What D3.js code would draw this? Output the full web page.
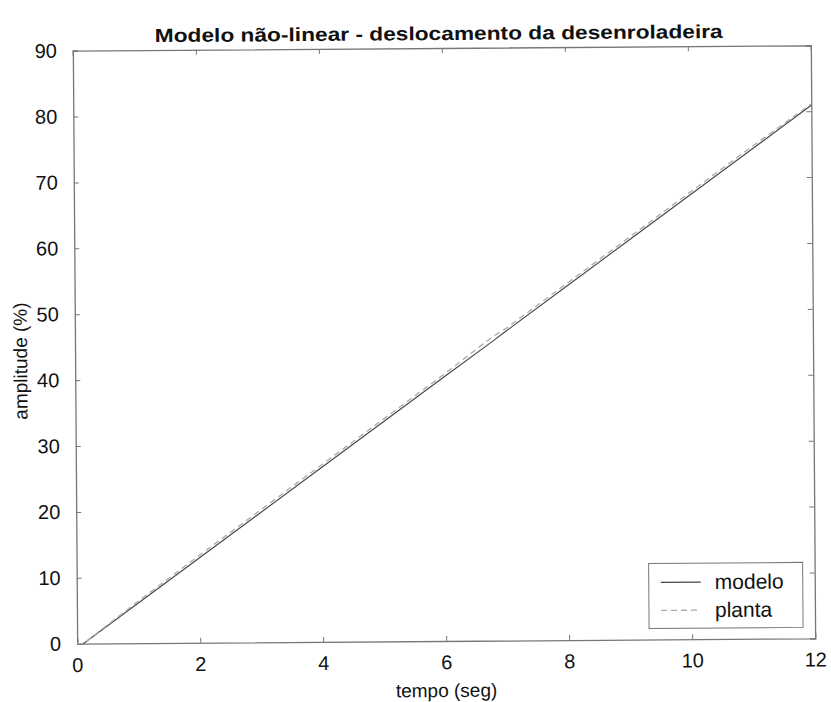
<!DOCTYPE html>
<html>
<head>
<meta charset="utf-8">
<script src="https://cdn.jsdelivr.net/npm/d3@7"></script>
<style>
  body { margin: 0; background: #fff; }
  svg { display: block; font-family: "Liberation Sans", Arial, sans-serif; }
</style>
</head>
<body>
<svg id="chart" width="831" height="702"></svg>
<script>
// Time base (s) and the two displacement curves (%)
const tempo  = [0, 0.1, 1, 2, 3, 4, 5, 6, 6.8, 7, 8, 9, 10, 11, 12];
const modelo = [0, 0, 6.1, 12.9, 19.7, 26.5, 33.3, 40.1, 45.5, 46.9, 53.7, 60.5, 67.3, 74.1, 80.9];
const planta = [0, 0, 6.4, 13.3, 20.1, 26.9, 33.7, 40.5, 46.2, 47.3, 54.1, 60.9, 67.7, 74.5, 81.1];
const xTicks = [0, 2, 4, 6, 8, 10, 12];
const yTicks = [0, 10, 20, 30, 40, 50, 60, 70, 80, 90];

const svg = d3.select("#chart");
// whole figure sits with a slight counter-clockwise tilt
const root = svg.append("g").attr("transform", "rotate(-0.42,444,344.5)");

const m = { left: 75, right: 813, top: 48, bottom: 641 };
const x = d3.scaleLinear().domain([0, 12]).range([m.left, m.right]);
const y = d3.scaleLinear().domain([0, 90]).range([m.bottom, m.top]);
const frame = "#777";
const tickLen = 5;
const font = "\"Liberation Sans\", Arial, sans-serif";

// Axes: labels outside, ticks pointing inward on all four sides
const axB = root.append("g").attr("transform", `translate(0,${m.bottom})`)
  .call(d3.axisBottom(x).tickValues(xTicks).tickSize(-tickLen).tickPadding(14));
const axT = root.append("g").attr("transform", `translate(0,${m.top})`)
  .call(d3.axisTop(x).tickValues(xTicks).tickSize(-tickLen).tickFormat(""));
const axL = root.append("g").attr("transform", `translate(${m.left},0)`)
  .call(d3.axisLeft(y).tickValues(yTicks).tickSize(-tickLen).tickPadding(16));
const axR = root.append("g").attr("transform", `translate(${m.right},0)`)
  .call(d3.axisRight(y).tickValues(yTicks).tickSize(-tickLen).tickFormat(""));
[axB, axT, axL, axR].forEach(g => {
  g.attr("font-size", 20).attr("font-family", font);
  g.select(".domain").attr("stroke", frame).attr("stroke-width", 1.3);
  g.selectAll(".tick line").attr("stroke", frame);
  g.selectAll("text").attr("fill", "#111");
});

// Curves
const line = d3.line().x((d, i) => x(tempo[i])).y(d => y(d));
root.append("path").datum(modelo).attr("d", line)
  .attr("fill", "none").attr("stroke", "#444").attr("stroke-width", 1.1);
root.append("path").datum(planta).attr("d", line)
  .attr("fill", "none").attr("stroke", "#aaa").attr("stroke-width", 1.3)
  .attr("stroke-dasharray", "6,4");

// Title and axis labels
root.append("text").attr("x", 441).attr("y", 40).attr("text-anchor", "middle")
  .attr("font-size", 19).attr("font-weight", "bold").attr("fill", "#111")
  .attr("textLength", 568).attr("lengthAdjust", "spacingAndGlyphs")
  .text("Modelo não-linear - deslocamento da desenroladeira");
root.append("text").attr("x", 444).attr("y", 697).attr("text-anchor", "middle")
  .attr("font-size", 19).attr("fill", "#111").text("tempo (seg)");
root.append("text").attr("transform", "translate(27,358) rotate(-90)")
  .attr("text-anchor", "middle").attr("font-size", 19).attr("fill", "#111")
  .text("amplitude (%)");

// Legend
const lg = root.append("g");
lg.append("rect").attr("x", 647).attr("y", 565).attr("width", 154).attr("height", 65)
  .attr("fill", "#fff").attr("stroke", frame).attr("stroke-width", 1);
const items = [
  { name: "modelo", color: "#444", dash: null, w: 1.1 },
  { name: "planta", color: "#aaa", dash: "6,4", w: 1.3 }
];
items.forEach((it, i) => {
  const yy = 584 + i * 28;
  lg.append("line").attr("x1", 659).attr("x2", 699).attr("y1", yy).attr("y2", yy)
    .attr("stroke", it.color).attr("stroke-width", it.w)
    .attr("stroke-dasharray", it.dash);
  lg.append("text").attr("x", 713).attr("y", yy + 7).attr("font-size", 21)
    .attr("fill", "#111").text(it.name);
});
</script>
</body>
</html>
